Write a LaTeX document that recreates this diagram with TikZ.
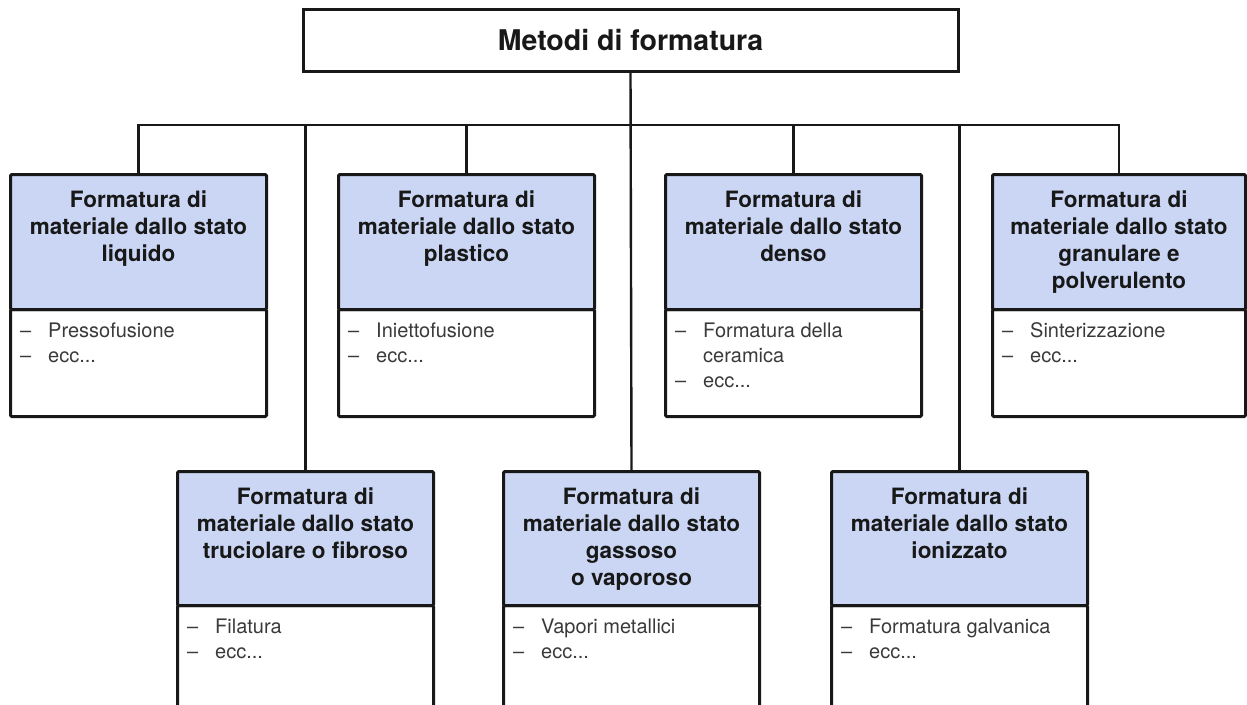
\documentclass[tikz,border=0pt]{standalone}
\usepackage{fontspec}
\usepackage{xcolor}
\usepackage{tikz}
\usetikzlibrary{positioning}
\setmainfont{TeX Gyre Heros}
\definecolor{headblue}{RGB}{202,214,244}
\definecolor{ink}{RGB}{24,24,24}
\definecolor{listgray}{RGB}{58,58,58}
\def\boxw{256pt}
\def\headh{135pt}
\def\bodyh{107pt}
\newcommand{\voce}{\makebox[28pt][l]{–}}

\begin{document}
\begin{tikzpicture}[x=1pt, y=-1pt,
		title/.style={draw=ink, line width=3pt, fill=white, minimum width=655pt, minimum height=62pt,
			inner sep=0pt, font=\bfseries\fontsize{28.5}{34}\selectfont, text=ink},
		head/.style={draw=ink, line width=3pt, fill=headblue, minimum width=\boxw, minimum height=\headh,
			inner sep=0pt, anchor=north west, rounded corners=1.2pt},
		body/.style={draw=ink, line width=3pt, fill=white, minimum width=\boxw, minimum height=\bodyh,
			inner sep=0pt, anchor=north west, rounded corners=1.2pt},
		headtxt/.style={anchor=north, align=center, inner sep=0pt, text=ink,
			font=\bfseries\fontsize{22.5}{27}\selectfont},
		listtxt/.style={anchor=north west, align=left, inner sep=0pt, text=listgray,
			font=\fontsize{20}{25}\selectfont},
		link/.style={draw=ink, line width=2.4pt}]
		\useasboundingbox (0,0) rectangle (1247,704);
		\clip (0,0) rectangle (1247,704);
		\coordinate (bus) at (0,125);
		\node[title] (meth) at (630.5,40) {Metodi di formatura};
		% upper row
		\node[body] (liq-b) at (9,308) {};
		\node[head] (liq) at (9,173) {};
		\node[body] (pla-b) at (337,308) {};
		\node[head] (pla) at (337,173) {};
		\node[body] (den-b) at (664,308) {};
		\node[head] (den) at (664,173) {};
		\node[body, minimum width=253pt] (gra-b) at (991,308) {};
		\node[head, minimum width=253pt] (gra) at (991,173) {};
		% lower row
		\node[body] (tru-b) at (176,604) {};
		\node[head, minimum height=134pt] (tru) at (176,470) {};
		\node[body] (gas-b) at (502,604) {};
		\node[head, minimum height=134pt] (gas) at (502,470) {};
		\node[body] (ion-b) at (830,604) {};
		\node[head, minimum height=134pt] (ion) at (830,470) {};
		\draw[link] (liq.north) |- (gra.north |- bus) -- (gra.north);
		\draw[link] (meth.south) -- (gas.north);
		\foreach \b in {tru,pla,den,ion}
			\draw[link] (\b.north |- bus) -- (\b.north);
		\node[headtxt, below=18pt of liq.north] (liq-t) {Formatura di\\materiale dallo stato\\liquido};
		\node[headtxt, below=18pt of pla.north] (pla-t) {Formatura di\\materiale dallo stato\\plastico};
		\node[headtxt, below=18pt of den.north] (den-t) {Formatura di\\materiale dallo stato\\denso};
		\node[headtxt, below=18pt of gra.north] (gra-t) {Formatura di\\materiale dallo stato\\granulare e\\polverulento};
		\node[headtxt, below=18pt of tru.north] (tru-t) {Formatura di\\materiale dallo stato\\truciolare o fibroso};
		\node[headtxt, below=18pt of gas.north] (gas-t) {Formatura di\\materiale dallo stato\\gassoso\\o vaporoso};
		\node[headtxt, below=18pt of ion.north] (ion-t) {Formatura di\\materiale dallo stato\\ionizzato};
		\node[listtxt, below right=14.5pt and 11pt of liq-b.north west] (liq-l) {\voce Pressofusione\\\voce ecc...};
		\node[listtxt, below right=14.5pt and 11pt of pla-b.north west] (pla-l) {\voce Iniettofusione\\\voce ecc...};
		\node[listtxt, below right=14.5pt and 11pt of den-b.north west] (den-l) {\voce Formatura della\\\hspace*{28pt}ceramica\\\voce ecc...};
		\node[listtxt, below right=14.5pt and 11pt of gra-b.north west] (gra-l) {\voce Sinterizzazione\\\voce ecc...};
		\node[listtxt, below right=14.5pt and 11pt of tru-b.north west] (tru-l) {\voce Filatura\\\voce ecc...};
		\node[listtxt, below right=14.5pt and 11pt of gas-b.north west] (gas-l) {\voce Vapori metallici\\\voce ecc...};
		\node[listtxt, below right=14.5pt and 11pt of ion-b.north west] (ion-l) {\voce Formatura galvanica\\\voce ecc...};
	\end{tikzpicture}
\end{document}
